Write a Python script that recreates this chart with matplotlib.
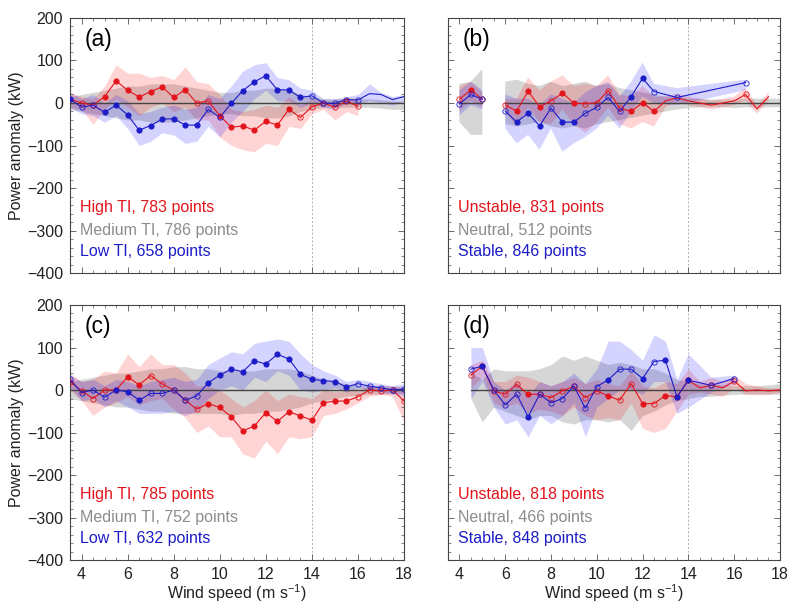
from pathlib import Path

import matplotlib
import numpy as np

matplotlib.use("Agg")
import matplotlib.pyplot as plt
from matplotlib.ticker import MultipleLocator

OUTPUT_PATH = Path("out.png")

RED = "#e3141c"
GRAY = "#8a8a8a"
BLUE = "#1c1cc8"

# wind speed bin centres (m/s)
WIND_BINS = [3.5, 4.0, 4.5, 5.0, 5.5, 6.0, 6.5, 7.0, 7.5, 8.0, 8.5, 9.0, 9.5, 10.0, 10.5,
             11.0, 11.5, 12.0, 12.5, 13.0, 13.5, 14.0, 14.5, 15.0, 15.5, 16.0, 16.5, 17.0,
             17.5, 18.0]

# marks: f = significant (filled), o = not significant (open), - = no marker

# (a) turbulence intensity, upper
A_RED_X = WIND_BINS[:26]
A_RED_MEAN = [9, 0, -5, 15, 52, 30, 14, 27, 38, 13, 31, 0, 5, -30, -57, -54, -64, -43, -52,
              -15, -34, -9, 0, -10, 5, -8]
A_RED_HI = [25, 15, 10, 40, 90, 70, 70, 60, 65, 55, 85, 50, 45, 20, -15, -20, -15, -5, -10,
            15, -5, 10, 5, 5, 15, 10]
A_RED_LO = [-10, -15, -50, -15, 10, -10, -30, -10, 0, -20, -10, -40, -40, -80, -100, -110,
            -115, -95, -100, -55, -60, -25, -15, -40, -20, -30]
A_RED_MARKS = "oooffffffffoofffffffoooooo"
A_GRAY_X = WIND_BINS
A_GRAY_HI = [15, 20, 25, 30, 35, 40, 40, 45, 45, 45, 40, 35, 30, 25, 25, 30, 30, 35, 35, 30,
             20, 15, 10, 10, 10, 10, 10, 8, 5, 5]
A_GRAY_LO = [-15, -20, -25, -30, -35, -40, -40, -45, -45, -45, -40, -35, -30, -25, -25, -30,
             -30, -35, -35, -30, -20, -15, -10, -10, -10, -10, -10, -12, -15, -15]
A_BLUE_X = WIND_BINS
A_BLUE_MEAN = [9, -10, -5, -22, -5, -28, -64, -53, -38, -37, -52, -52, -15, -34, -1, 29, 50,
               64, 31, 31, 13, 17, 0, -1, 8, 7, 22, 20, 8, 15]
A_BLUE_HI = [25, 10, 20, 0, 20, 5, -25, -20, -10, -5, -15, -10, 20, 10, 40, 75, 90, 95, 60,
             55, 35, 30, 10, 10, 15, 20, 45, 25, 15, 20]
A_BLUE_LO = [-10, -25, -30, -45, -30, -60, -100, -90, -70, -75, -95, -90, -55, -80, -45, -20,
             10, 30, 5, 5, -10, 0, -10, -15, 0, -5, 5, 0, -5, 5]
A_BLUE_MARKS = "foofffffffffoofffffffooooo----"
A_LABELS = ["High TI, 783 points", "Medium TI, 786 points", "Low TI, 658 points"]

# (b) stability, upper
B_RED_X = WIND_BINS[1:29]
B_RED_MEAN = [9, 31, 9, np.nan, -5, -19, 28, -9, 5, 23, 0, -2, 1, 29, -12, -20, 1, -20, 5, 12,
              5, 0, -5, 0, 5, 20, -14, 15]
B_RED_HI = [40, 50, 25, np.nan, 10, 10, 60, 30, 50, 65, 40, 45, 40, 65, 20, 15, 40, 15, 15, 22,
            15, 10, 5, 10, 15, 35, -5, 25]
B_RED_LO = [-20, 5, -10, np.nan, -20, -55, -10, -45, -50, -15, -50, -70, -45, -10, -50, -60,
            -45, -55, -10, 2, -5, -10, -15, -10, -5, 5, -25, 5]
B_RED_MARKS = "ofo-offfoffoooofffo"[:18] + "-------" + "o--"
B_GRAY_X = WIND_BINS[1:]
B_GRAY_HI = [45, 50, 80, np.nan, 50, 55, 45, 40, 50, 40, 45, 50, 40, 45, 35, 30, 25, 20, 15,
             15, 10, 10, 8, 8, 8, 10, 10, 10, 10]
B_GRAY_LO = [-45, -75, -75, np.nan, -50, -55, -50, -45, -55, -60, -55, -60, -50, -45, -40, -35,
             -30, -25, -20, -15, -12, -10, -10, -10, -12, -10, -12, -10, -10]
B_BLUE_X = [4.0, 4.5, 5.0, 5.5, 6.0, 6.5, 7.0, 7.5, 8.0, 8.5, 9.0, 9.5, 10.0, 10.5, 11.0, 11.5,
            12.0, 12.5, 13.5, 16.5]
B_BLUE_MEAN = [-2, 20, 9, np.nan, -19, -45, -24, -54, -12, -45, -45, -24, -10, 13, -20, 15, 58,
               27, 13, 48]
B_BLUE_HI = [30, 50, 30, np.nan, 20, 10, 10, -5, 20, 10, 0, 25, 40, 50, 15, 50, 95, 45, 35, 55]
B_BLUE_LO = [-30, -5, -15, np.nan, -60, -95, -75, -110, -60, -115, -95, -80, -60, -30, -60,
             -20, 15, 0, -5, 30]
B_BLUE_MARKS = "ooo-offfoffooooffooo"
B_LABELS = ["Unstable, 831 points", "Neutral, 512 points", "Stable, 846 points"]

# (c) turbulence intensity, lower
C_RED_X = WIND_BINS
C_RED_MEAN = [20, -2, -20, 0, 0, 31, 12, 34, 14, 0, -24, -45, -32, -41, -63, -96, -85, -53,
              -74, -51, -61, -71, -30, -26, -26, -16, 0, -2, 0, -26]
C_RED_HI = [40, 20, 25, 45, 40, 85, 55, 85, 60, 60, 40, 10, 10, 0, -20, -40, -25, 0, -25, -10,
            -15, -20, 0, -5, 0, 0, 10, 10, 10, 5]
C_RED_LO = [0, -25, -60, -40, -30, -15, -35, -25, -20, -45, -65, -100, -85, -110, -110, -150,
            -160, -120, -150, -110, -115, -110, -60, -55, -45, -30, -15, -10, -15, -75]
C_RED_MARKS = "ooooo" + "ff" + "ooooo" + "fffffffffffff" + "ooooo"
C_GRAY_X = WIND_BINS
C_GRAY_HI = [20, 25, 30, 35, 40, 40, 45, 50, 50, 55, 55, 50, 50, 45, 45, 45, 45, 50, 50, 50,
             45, 35, 25, 20, 15, 12, 10, 10, 8, 8]
C_GRAY_LO = [-20, -25, -30, -35, -40, -40, -45, -50, -50, -55, -55, -55, -55, -55, -60, -55,
             -55, -50, -50, -45, -40, -30, -25, -20, -15, -12, -10, -10, -8, -8]
C_BLUE_X = WIND_BINS
C_BLUE_MEAN = [25, -6, 0, -17, 0, -4, -24, -8, -8, 0, -24, -14, 17, 35, 49, 43, 69, 61, 84, 73,
               37, 25, 22, 20, 7, 15, 9, 5, 0, 2]
C_BLUE_HI = [35, 20, 25, 10, 25, 20, 10, 20, 25, 30, 20, 25, 60, 75, 90, 85, 110, 115, 120,
             115, 85, 60, 45, 35, 20, 25, 20, 15, 10, 15]
C_BLUE_LO = [5, -25, -20, -40, -25, -40, -55, -55, -55, -50, -60, -50, -20, 0, 10, 0, 30, 20,
             45, 35, 0, -5, 0, 5, -5, 5, 0, -5, -10, -15]
C_BLUE_MARKS = "oooo" + "fff" + "ooooo" + "fffffffffffff" + "ooooo"
C_LABELS = ["High TI, 785 points", "Medium TI, 752 points", "Low TI, 632 points"]

# (d) stability, lower
D_RED_X = WIND_BINS[2:]
D_RED_MEAN = [35, 56, -2, -10, 13, -10, -10, -18, -2, 9, -18, -2, -14, -24, 15, -32, -32, -13,
              -16, 23, 5, 11, 5, 21, -2, 0, -2, 0]
D_RED_HI = [60, 70, 20, 20, 35, 30, 20, 10, 20, 30, 15, 25, 15, 10, 45, 10, 5, 20, 15, 50, 20,
            30, 20, 35, 15, 10, 5, 5]
D_RED_LO = [5, 30, -30, -40, -30, -55, -45, -50, -60, -40, -60, -70, -65, -70, -30, -90, -100,
            -90, -50, -10, -5, -10, -15, 5, -10, -10, -10, -5]
D_RED_MARKS = "ofooofoooooofoofofff" + "-o-o----"
D_GRAY_X = WIND_BINS[2:]
D_GRAY_HI = [40, 25, 50, 45, 45, 45, 50, 60, 80, 70, 80, 70, 60, 65, 60, 50, 50, 40, 25, 20,
             15, 15, 12, 10, 10, 10, 12, 15]
D_GRAY_LO = [-20, -75, -40, -50, -60, -70, -60, -60, -75, -80, -70, -70, -75, -70, -95, -60,
             -50, -35, -25, -20, -15, -15, -12, -10, -10, -10, -10, -10]
D_BLUE_X = [4.5, 5.0, 5.5, 6.0, 6.5, 7.0, 7.5, 8.0, 8.5, 9.0, 9.5, 10.0, 10.5, 11.0, 11.5,
            12.0, 12.5, 13.0, 13.5, 14.0, 15.0, 16.0]
D_BLUE_MEAN = [49, 56, 0, -35, -10, -63, -10, -30, -20, 9, -43, 8, 24, 49, 49, 27, 67, 70, -16,
               23, 11, 27]
D_BLUE_HI = [100, 100, 20, 0, 20, -15, 20, 10, 20, 40, 15, 50, 115, 115, 95, 70, 130, 115, 25,
             85, 30, 35]
D_BLUE_LO = [-20, 20, -40, -80, -70, -110, -60, -80, -60, -30, -110, -40, -20, 0, 0, -10, 20,
             20, -55, -40, -5, 15]
D_BLUE_MARKS = "ofooofoooooofoofofffoo"
D_LABELS = ["Unstable, 818 points", "Neutral, 466 points", "Stable, 848 points"]


def draw_band(ax, x, lo, hi, color, alpha):
    ax.fill_between(x, lo, hi, color=color, alpha=alpha, linewidth=0)


def draw_mean(ax, x, mean, marks, color):
    """
    Line through bin means; filled circles where significant, open otherwise.
    """
    x = np.asarray(x, dtype=float)
    mean = np.asarray(mean, dtype=float)
    ax.plot(x, mean, color=color, linewidth=0.8, zorder=4)
    flags = np.array(list(marks))
    filled = flags == "f"
    empty = flags == "o"
    ax.plot(x[filled], mean[filled], "o", color=color, markersize=3.8,
            markeredgewidth=0.6, zorder=5)
    ax.plot(x[empty], mean[empty], "o", color=color, markerfacecolor="none",
            markersize=3.8, markeredgewidth=0.6, zorder=5)


def style_axes(ax, show_x, show_y):
    ax.set_xlim(3.5, 18)
    ax.set_ylim(-400, 200)
    ax.xaxis.set_major_locator(MultipleLocator(2))
    ax.xaxis.set_minor_locator(MultipleLocator(0.5))
    ax.yaxis.set_major_locator(MultipleLocator(100))
    ax.yaxis.set_minor_locator(MultipleLocator(20))
    ax.tick_params(which="both", direction="in", top=True, right=True,
                   color="#555555", labelsize=11.5, labelcolor="#222222", pad=5)
    ax.tick_params(which="major", length=4, width=0.6)
    ax.tick_params(which="minor", length=2, width=0.5)
    for spine in ax.spines.values():
        spine.set_color("#444444")
        spine.set_linewidth(0.8)
    if show_x:
        ax.set_xlabel(r"Wind speed (m s$\mathregular{^{-1}}$)", fontsize=11.5,
                      color="#222222", labelpad=0)
    else:
        ax.tick_params(labelbottom=False)
    if show_y:
        ax.set_ylabel("Power anomaly (kW)", fontsize=11.5, color="#222222", labelpad=2)
    else:
        ax.tick_params(labelleft=False)


def plot_panel(ax, tag, red, gray, blue, labels, show_x, show_y):
    gray_x, gray_lo, gray_hi = gray
    draw_band(ax, gray_x, gray_lo, gray_hi, GRAY, 0.35)
    draw_band(ax, red[0], red[2], red[3], "red", 0.17)
    draw_band(ax, blue[0], blue[2], blue[3], "blue", 0.17)

    ax.axvline(14, color="#b0b0b0", linestyle=(0, (2, 2)), linewidth=0.7, zorder=1)
    # reference group (neutral / medium TI) sits on zero by definition
    ax.plot(gray_x, np.asarray(gray_hi, dtype=float) * 0, color="#444444",
            linewidth=1.0, zorder=3)

    draw_mean(ax, red[0], red[1], red[4], RED)
    draw_mean(ax, blue[0], blue[1], blue[4], BLUE)

    ax.text(0.045, 0.915, tag, transform=ax.transAxes, fontsize=16.5, va="center")
    for label, color, y in zip(labels, [RED, "#8c8c8c", BLUE], [0.255, 0.168, 0.085]):
        ax.text(0.03, y, label, transform=ax.transAxes, fontsize=11.5, color=color,
                va="center")
    style_axes(ax, show_x, show_y)


def main():
    plt.rcParams["font.family"] = ["Liberation Sans", "DejaVu Sans"]
    plt.rcParams["mathtext.fontset"] = "custom"
    plt.rcParams["mathtext.rm"] = "Liberation Sans"

    fig = plt.figure(figsize=(7.94, 6.06), dpi=100)
    left = [0.0882, 0.5642]
    width = [0.4207, 0.4181]
    bottom = [0.5495, 0.0759]
    height = 0.4208

    ax_a = fig.add_axes([left[0], bottom[0], width[0], height])
    ax_b = fig.add_axes([left[1], bottom[0], width[1], height])
    ax_c = fig.add_axes([left[0], bottom[1], width[0], height])
    ax_d = fig.add_axes([left[1], bottom[1], width[1], height])

    plot_panel(ax_a, "(a)",
               (A_RED_X, A_RED_MEAN, A_RED_LO, A_RED_HI, A_RED_MARKS),
               (A_GRAY_X, A_GRAY_LO, A_GRAY_HI),
               (A_BLUE_X, A_BLUE_MEAN, A_BLUE_LO, A_BLUE_HI, A_BLUE_MARKS),
               A_LABELS, False, True)
    plot_panel(ax_b, "(b)",
               (B_RED_X, B_RED_MEAN, B_RED_LO, B_RED_HI, B_RED_MARKS),
               (B_GRAY_X, B_GRAY_LO, B_GRAY_HI),
               (B_BLUE_X, B_BLUE_MEAN, B_BLUE_LO, B_BLUE_HI, B_BLUE_MARKS),
               B_LABELS, False, False)
    plot_panel(ax_c, "(c)",
               (C_RED_X, C_RED_MEAN, C_RED_LO, C_RED_HI, C_RED_MARKS),
               (C_GRAY_X, C_GRAY_LO, C_GRAY_HI),
               (C_BLUE_X, C_BLUE_MEAN, C_BLUE_LO, C_BLUE_HI, C_BLUE_MARKS),
               C_LABELS, True, True)
    plot_panel(ax_d, "(d)",
               (D_RED_X, D_RED_MEAN, D_RED_LO, D_RED_HI, D_RED_MARKS),
               (D_GRAY_X, D_GRAY_LO, D_GRAY_HI),
               (D_BLUE_X, D_BLUE_MEAN, D_BLUE_LO, D_BLUE_HI, D_BLUE_MARKS),
               D_LABELS, True, False)

    fig.savefig(OUTPUT_PATH, dpi=100)
    plt.close(fig)


if __name__ == "__main__":
    main()
